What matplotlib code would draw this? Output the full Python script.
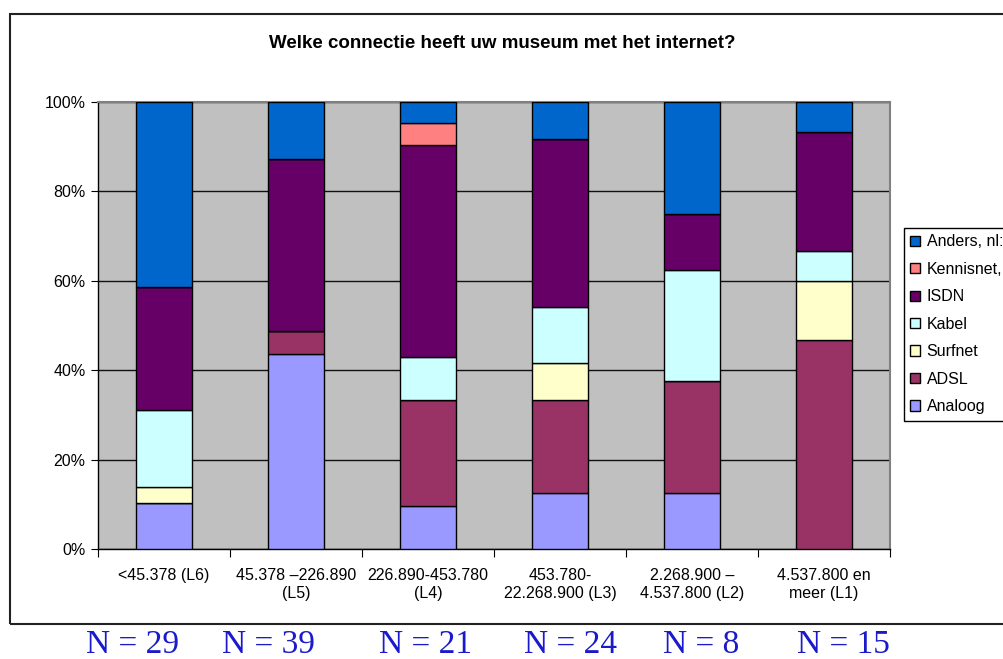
import matplotlib.pyplot as plt
import numpy as np
from matplotlib.patches import Rectangle
from matplotlib.ticker import FuncFormatter, FixedLocator

plt.rcParams['font.family'] = ['Liberation Sans', 'DejaVu Sans']

# Gegevens (aantallen per grootteklasse)
categorieen = ['<45.378 (L6)', '45.378 \u2013226.890\n(L5)', '226.890-453.780\n(L4)',
               '453.780-\n22.268.900 (L3)', '2.268.900 \u2013\n4.537.800 (L2)', '4.537.800 en\nmeer (L1)']
n_totaal = [29, 39, 21, 24, 8, 15]
analoog = [3, 17, 2, 3, 1, 0]
adsl = [0, 2, 5, 5, 2, 7]
surfnet = [1, 0, 0, 2, 0, 2]
kabel = [5, 0, 2, 3, 2, 1]
isdn = [8, 15, 10, 9, 1, 4]
kennisnet = [0, 0, 1, 0, 0, 0]
anders = [12, 5, 1, 2, 2, 1]

reeksen = ['Analoog', 'ADSL', 'Surfnet', 'Kabel', 'ISDN', 'Kennisnet,', 'Anders, nl:']
waarden = [analoog, adsl, surfnet, kabel, isdn, kennisnet, anders]
kleuren = ['#9999FF', '#993366', '#FFFFCC', '#CCFFFF', '#660066', '#FF8080', '#0066CC']

W, H = 1004, 659
fig = plt.figure(figsize=(W / 100, H / 100), dpi=100)

# buitenkader van de grafiek
fig.patches.append(Rectangle((10 / W, 1 - 624 / H), 1.2, 610 / H, transform=fig.transFigure,
                             fill=False, edgecolor='#222222', linewidth=1.5, zorder=0))

ax = fig.add_axes([98 / W, 1 - 549 / H, 792 / W, 447 / H])
ax.set_facecolor('#C0C0C0')

x = np.arange(len(categorieen))
n = np.array(n_totaal, dtype=float)
onder = np.zeros(len(x))
for naam, w, kleur in zip(reeksen, waarden, kleuren):
    pct = np.array(w) / n * 100
    ax.bar(x, pct, 0.42, bottom=onder, color=kleur, edgecolor='black', linewidth=1, label=naam, zorder=3)
    onder += pct

ax.set_xlim(-0.5, len(x) - 0.5)
ax.set_ylim(0, 100)
ax.set_yticks([0, 20, 40, 60, 80, 100])
ax.yaxis.set_major_formatter(FuncFormatter(lambda v, p: f'{v:.0f}%'))
ax.yaxis.grid(True, color='#111111', linewidth=1)
ax.set_axisbelow(True)

ax.xaxis.set_major_locator(FixedLocator(np.arange(-0.5, len(x), 1.0)))
ax.xaxis.set_major_formatter(FuncFormatter(lambda v, p: ''))
ax.set_xticks(x, minor=True)
ax.set_xticklabels(categorieen, minor=True, fontsize=11.5, linespacing=1.25)
ax.tick_params(axis='x', which='minor', length=0, pad=14)
ax.tick_params(axis='x', which='major', length=6, direction='out', color='black')
ax.tick_params(axis='y', length=5, direction='out', labelsize=11.5, pad=4)

for s in ['left', 'bottom']:
    ax.spines[s].set_color('black')
    ax.spines[s].set_linewidth(1)
for s in ['top', 'right']:
    ax.spines[s].set_color('#808080')
    ax.spines[s].set_linewidth(1.5)

fig.text(0.5, 1 - 44 / H, 'Welke connectie heeft uw museum met het internet?',
         ha='center', va='center', fontsize=13.5, fontweight='bold')

handles, labels = ax.get_legend_handles_labels()
leg = fig.legend(handles[::-1], labels[::-1], loc='upper left', bbox_to_anchor=(904 / W, 1 - 228 / H),
                 fontsize=11.5, frameon=True, fancybox=False, edgecolor='black', framealpha=1,
                 handlelength=0.62, handleheight=0.62, handletextpad=0.4, labelspacing=0.78,
                 borderpad=0.4, borderaxespad=0)
leg.get_frame().set_linewidth(1)

n_x = [133, 268, 426, 571, 701, 843]
for xp, nn in zip(n_x, n_totaal):
    fig.text(xp / W, 1 - 653 / H, f'N = {nn}', ha='center', va='baseline',
             fontsize=24, family='Liberation Serif', color='#1a1acc')

fig.savefig('out.png', dpi=100)
